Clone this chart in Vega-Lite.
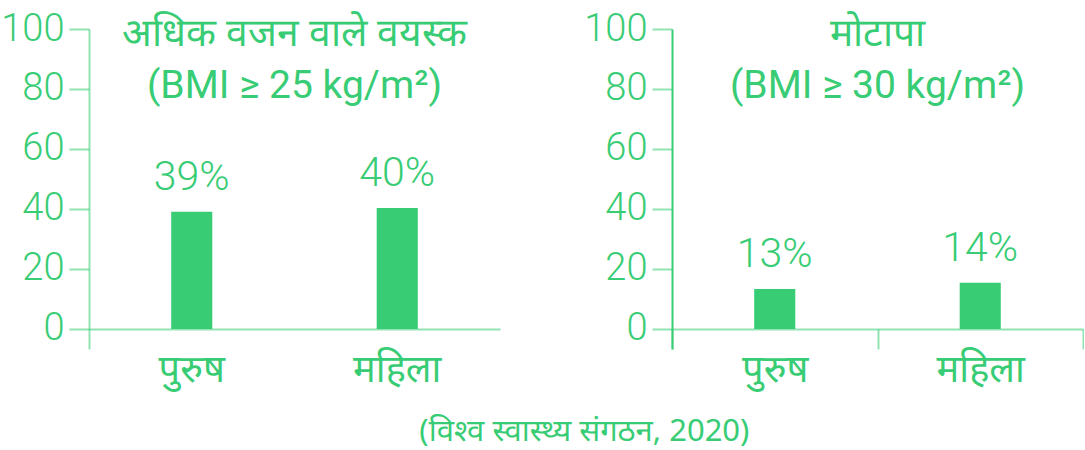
{
  "$schema": "https://vega.github.io/schema/vega-lite/v6.json",
  "background": "white",
  "padding": {"left": 0, "top": 10, "right": 0, "bottom": 0},
  "config": {
    "view": {"stroke": null},
    "font": "Roboto",
    "concat": {"spacing": 83},
    "title": {"color": "#38CC75", "fontWeight": "normal"}
  },
  "datasets": {
    "overweight": [
      {"sex": "पुरुष", "value": 39.1, "label": "39%"},
      {"sex": "महिला", "value": 40.3, "label": "40%"}
    ],
    "obese": [
      {"sex": "पुरुष", "value": 13.3, "label": "13%"},
      {"sex": "महिला", "value": 15.4, "label": "14%"}
    ]
  },
  "title": {
    "text": "(विश्व स्वास्थ्य संगठन, 2020)",
    "orient": "bottom",
    "anchor": "middle",
    "fontSize": 31,
    "font": "Noto Sans",
    "color": "#38CC75",
    "dx": 42,
    "offset": 28
  },
  "hconcat": [
    {
      "width": 411,
      "height": 320,
      "title": {
        "text": ["अधिक वजन वाले वयस्क", "(BMI ≥ 25 kg/m²)"],
        "fontSize": 39,
        "lineHeight": 52,
        "anchor": "middle",
        "baseline": "top",
        "offset": -96
      },
      "data": {"name": "overweight"},
      "layer": [
        {
          "mark": {"type": "bar", "width": {"band": 0.2}, "color": "#38CC75"},
          "encoding": {
            "x": {
              "field": "sex", "type": "nominal", "sort": null,
              "scale": {"paddingInner": 0, "paddingOuter": 0},
              "axis": {
                "title": null, "labelAngle": 0, "offset": -20, "ticks": false,
                "labelPadding": 22, "labelFontSize": 38, "labelColor": "#38CC75",
                "labelFont": "Noto Sans",
                "domainColor": "#38CC75", "domainOpacity": 0.55, "domainWidth": 2
              }
            },
            "y": {
              "field": "value", "type": "quantitative",
              "scale": {"domain": [-6.667, 100], "nice": false, "zero": false},
              "axis": {
                "title": null, "values": [0, 20, 40, 60, 80, 100], "grid": false,
                "tickSize": 20, "tickColor": "#38CC75", "tickOpacity": 0.55, "tickWidth": 2,
                "domainColor": "#38CC75", "domainOpacity": 0.55, "domainWidth": 2,
                "labelPadding": 5, "labelFontSize": 38, "labelFontWeight": 300,
                "labelColor": "#38CC75", "labelFont": "Roboto"
              }
            },
            "y2": {"datum": 0}
          }
        },
        {
          "mark": {"type": "text", "dy": -13, "baseline": "bottom", "fontSize": 41, "fontWeight": 300, "font": "Roboto", "color": "#38CC75"},
          "encoding": {
            "x": {"field": "sex", "type": "nominal", "sort": null},
            "y": {"field": "value", "type": "quantitative"},
            "text": {"field": "label"}
          }
        }
      ]
    },
    {
      "width": 411,
      "height": 320,
      "title": {
        "text": ["मोटापा", "(BMI ≥ 30 kg/m²)"],
        "fontSize": 39,
        "lineHeight": 52,
        "anchor": "middle",
        "baseline": "top",
        "offset": -96
      },
      "data": {"name": "obese"},
      "layer": [
        {
          "mark": {"type": "bar", "width": {"band": 0.2}, "color": "#38CC75"},
          "encoding": {
            "x": {
              "field": "sex", "type": "nominal", "sort": null,
              "scale": {"paddingInner": 0, "paddingOuter": 0},
              "axis": {
                "title": null, "labelAngle": 0, "offset": -20,
                "tickBand": "extent", "tickSize": 20, "tickColor": "#38CC75", "tickOpacity": 0.55, "tickWidth": 2,
                "labelPadding": 2, "labelFontSize": 38, "labelColor": "#38CC75",
                "labelFont": "Noto Sans",
                "domainColor": "#38CC75", "domainOpacity": 0.55, "domainWidth": 2
              }
            },
            "y": {
              "field": "value", "type": "quantitative",
              "scale": {"domain": [-6.667, 100], "nice": false, "zero": false},
              "axis": {
                "title": null, "values": [0, 20, 40, 60, 80, 100], "grid": false,
                "tickSize": 20, "tickColor": "#38CC75", "tickOpacity": 0.55, "tickWidth": 2,
                "domainColor": "#38CC75", "domainOpacity": 1, "domainWidth": 2,
                "labelPadding": 5, "labelFontSize": 38, "labelFontWeight": 300,
                "labelColor": "#38CC75", "labelFont": "Roboto"
              }
            },
            "y2": {"datum": 0}
          }
        },
        {
          "mark": {"type": "text", "dy": -13, "baseline": "bottom", "fontSize": 41, "fontWeight": 300, "font": "Roboto", "color": "#38CC75"},
          "encoding": {
            "x": {"field": "sex", "type": "nominal", "sort": null},
            "y": {"field": "value", "type": "quantitative"},
            "text": {"field": "label"}
          }
        }
      ]
    }
  ]
}
